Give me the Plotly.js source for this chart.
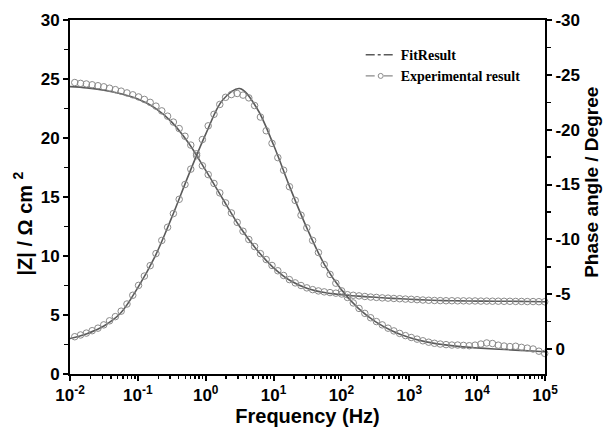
<!DOCTYPE html>
<html>
<head>
<meta charset="utf-8">
<script src="https://cdn.plot.ly/plotly-3.0.1.min.js"></script>
<style>html,body{margin:0;padding:0;background:#fff;}#chart{width:603px;height:432px;}</style>
</head>
<body>
<div id="chart"></div>
<script>
// Experimental frequencies (Hz)
const expFreq = [0.01175,0.01430,0.01742,0.02121,0.02582,0.03144,0.03828,0.04661,0.05675,0.06910,
  0.08414,0.1024,0.1247,0.1519,0.1849,0.2252,0.2742,0.3338,0.4064,0.4949,
  0.6026,0.7337,0.8933,1.088,1.324,1.612,1.963,2.390,2.911,3.544,
  4.315,5.254,6.397,7.789,9.484,11.55,14.06,17.12,20.84,25.38,
  30.90,37.63,45.81,55.78,67.92,82.70,100.7,122.6,149.3,181.8,
  221.3,269.5,328.1,399.5,486.4,592.3,721.1,878.0,1069,1302,
  1585,1930,2350,2861,3483,4241,5164,6288,7656,9322,
  11350,13820,16830,20490,24950,30380,36980,45030,54830,66760,
  81280,98970];
// Experimental |Z| (ohm cm2)
const expZ = [24.70,24.63,24.58,24.51,24.43,24.34,24.22,24.10,23.97,23.82,
  23.66,23.48,23.27,23.02,22.70,22.30,21.85,21.35,20.80,20.15,
  19.40,18.50,17.65,16.90,16.15,15.35,14.50,13.65,12.85,12.10,
  11.40,10.80,10.20,9.70,9.20,8.75,8.35,8.00,7.72,7.50,
  7.30,7.15,7.04,6.96,6.90,6.85,6.78,6.72,6.67,6.62,
  6.57,6.52,6.49,6.45,6.43,6.40,6.38,6.35,6.33,6.30,
  6.27,6.25,6.23,6.22,6.21,6.21,6.20,6.20,6.19,6.19,
  6.18,6.18,6.17,6.17,6.16,6.16,6.15,6.15,6.14,6.14,
  6.13,6.12];
// Experimental phase angle (degree)
const expPhase = [-1.12,-1.28,-1.45,-1.67,-1.90,-2.20,-2.57,-2.95,-3.45,-4.10,
  -4.90,-5.80,-6.65,-7.60,-8.70,-9.90,-11.10,-12.35,-13.65,-15.00,
  -16.40,-17.80,-19.10,-20.35,-21.40,-22.30,-22.95,-23.20,-23.30,-23.15,
  -22.90,-22.20,-21.15,-19.90,-18.75,-17.45,-16.30,-14.80,-13.55,-12.20,
  -11.05,-9.90,-8.80,-7.70,-6.80,-6.00,-5.30,-4.70,-4.20,-3.70,
  -3.25,-2.85,-2.50,-2.20,-1.90,-1.65,-1.42,-1.22,-1.05,-0.90,
  -0.75,-0.62,-0.52,-0.45,-0.40,-0.36,-0.36,-0.33,-0.30,-0.35,
  -0.45,-0.55,-0.50,-0.35,-0.27,-0.22,-0.25,-0.15,-0.08,0.00,
  0.20,0.40];
// Fit result
const fitFreq = [0.01,0.01778,0.03162,0.05623,0.1,0.1778,0.3162,0.5623,1,1.778,
  3.162,5.623,10,17.78,31.62,56.23,100,177.8,316.2,562.3,
  1000,1778,3162,5623,10000,17780,31620,56230,100000];
const fitZ = [24.35,24.25,24.05,23.75,23.30,22.55,21.35,19.55,17.25,14.85,
  12.50,10.55,9.00,7.90,7.25,6.90,6.72,6.60,6.50,6.41,
  6.34,6.27,6.22,6.20,6.18,6.17,6.16,6.14,6.12];
const fitPhase = [-0.95,-1.40,-2.10,-3.30,-5.60,-8.40,-12.0,-15.9,-19.6,-22.7,
  -23.75,-22.0,-18.6,-14.6,-10.9,-7.7,-5.4,-3.7,-2.5,-1.65,
  -1.05,-0.65,-0.40,-0.22,-0.10,0.00,0.08,0.16,0.25];

const xTickVals = [0.01,0.1,1,10,100,1000,10000,100000];
const xTickText = ['10<sup>-2</sup>','10<sup>-1</sup>','10<sup>0</sup>','10<sup>1</sup>','10<sup>2</sup>','10<sup>3</sup>','10<sup>4</sup>','10<sup>5</sup>'];
const yTickVals = [0,5,10,15,20,25,30];
const y2TickVals = [0,-5,-10,-15,-20,-25,-30];
const y2TickText = ['0','-5','-10','-15','-20','-25','-30'];

const lineCol = '#5a5a5a';
const markCol = '#8a8a8a';
const F = 'Liberation Sans, Arial, sans-serif';

const traces = [
  {x: fitFreq, y: fitZ, yaxis: 'y', mode: 'lines', line: {color: lineCol, width: 1.6, shape: 'spline'}, showlegend: false, hoverinfo: 'skip'},
  {x: fitFreq, y: fitPhase, yaxis: 'y2', mode: 'lines', line: {color: lineCol, width: 1.6, shape: 'spline'}, showlegend: false, hoverinfo: 'skip'},
  {x: expFreq, y: expZ, yaxis: 'y', mode: 'markers', marker: {symbol: 'circle-open', size: 6.5, color: markCol, line: {width: 1, color: markCol}}, showlegend: false, cliponaxis: false},
  {x: expFreq, y: expPhase, yaxis: 'y2', mode: 'markers', marker: {symbol: 'circle-open', size: 6.5, color: markCol, line: {width: 1, color: markCol}}, showlegend: false, cliponaxis: false},
  {x: [null], y: [null], mode: 'lines', name: 'FitResult', legendgroup: 'a', line: {color: lineCol, width: 1.6, dash: 'dashdot'}},
  {x: [null], y: [null], mode: 'lines+markers', name: 'Experimental result', legendgroup: 'b', line: {color: markCol, width: 1.2, dash: 'dash'}, marker: {symbol: 'circle-open', size: 5, color: markCol, line: {width: 1, color: markCol}}}
];

const titleFont = {family: F, size: 19.5, weight: 'bold', color: '#000'};

const layout = {
  width: 603, height: 432,
  margin: {l: 70, r: 58, t: 20, b: 58},
  paper_bgcolor: '#fff', plot_bgcolor: '#fff',
  font: {family: F, color: '#000'},
  showlegend: true,
  legend: {x: 0.612, y: 0.946, xanchor: 'left', yanchor: 'top', bgcolor: 'rgba(0,0,0,0)',
    font: {family: 'Liberation Serif, Times New Roman, serif', size: 14, weight: 'bold', color: '#000'},
    traceorder: 'grouped', tracegroupgap: 0},
  xaxis: {type: 'log', range: [-2, 5], tickvals: xTickVals, ticktext: xTickText,
    ticks: 'outside', ticklen: 5, tickwidth: 2, tickcolor: '#000',
    showline: true, linewidth: 2, linecolor: '#000', mirror: true, showgrid: false, zeroline: false,
    minor: {dtick: 'D1', ticks: 'outside', ticklen: 3, tickwidth: 1.5, tickcolor: '#000', showgrid: false},
    tickfont: {family: F, size: 17, weight: 'bold', color: '#000'},
    title: {text: 'Frequency (Hz)', font: {family: F, size: 20, weight: 'bold', color: '#000'}, standoff: 2}},
  yaxis: {range: [0, 30], tickvals: yTickVals,
    ticks: 'outside', ticklen: 5, tickwidth: 2, tickcolor: '#000',
    showline: true, linewidth: 2, linecolor: '#000', showgrid: false, zeroline: false,
    minor: {dtick: 2.5, ticks: 'outside', ticklen: 4, tickwidth: 1.5, tickcolor: '#000', showgrid: false},
    tickfont: {family: F, size: 17, weight: 'bold', color: '#000'}},
  yaxis2: {overlaying: 'y', side: 'right', range: [2.28, -30], tickvals: y2TickVals, ticktext: y2TickText,
    ticks: 'outside', ticklen: 5, tickwidth: 2, tickcolor: '#000',
    showline: true, linewidth: 2, linecolor: '#000', showgrid: false, zeroline: false,
    minor: {dtick: 2.5, ticks: 'outside', ticklen: 4, tickwidth: 1.5, tickcolor: '#000', showgrid: false},
    tickfont: {family: F, size: 17, weight: 'bold', color: '#000'}},
  annotations: [
    {text: '|Z|\u00A0/\u00A0\u03A9\u00A0cm\u00A0<sup>2</sup>', xref: 'paper', yref: 'paper', x: -0.099, y: 0.425,
     xanchor: 'center', yanchor: 'middle', textangle: -90, showarrow: false, font: {family: F, size: 20, weight: 'bold', color: '#000'}},
    {text: 'Phase angle / Degree', xref: 'paper', yref: 'paper', x: 1.099, y: 0.54,
     xanchor: 'center', yanchor: 'middle', textangle: -90, showarrow: false, font: {family: F, size: 19, weight: 'bold', color: '#000'}}
  ]
};

Plotly.newPlot('chart', traces, layout, {displayModeBar: false, staticPlot: true});
</script>
</body>
</html>
